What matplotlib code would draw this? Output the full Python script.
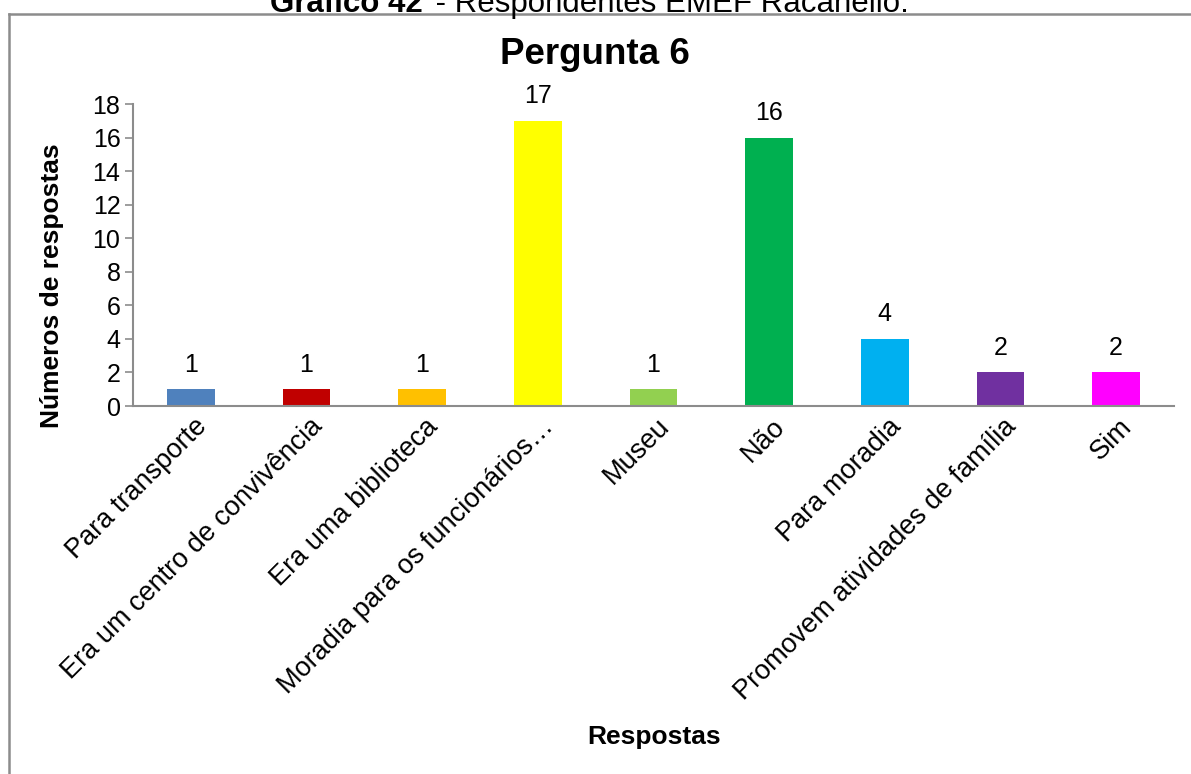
import matplotlib.pyplot as plt
from matplotlib.lines import Line2D
from matplotlib.transforms import ScaledTranslation

plt.rcParams['font.family'] = ['Liberation Sans', 'DejaVu Sans']

# dados do gráfico
categorias = ['Para transporte', 'Era um centro de convivência', 'Era uma biblioteca',
              'Moradia para os funcionários…', 'Museu', 'Não', 'Para moradia',
              'Promovem atividades de família', 'Sim']
respostas = [1, 1, 1, 17, 1, 16, 4, 2, 2]
cores = ['#4F81BD', '#C00000', '#FFC000', '#FFFF00', '#92D050',
         '#00B050', '#00B0F0', '#7030A0', '#FF00FF']
y_ticks = [0, 2, 4, 6, 8, 10, 12, 14, 16, 18]

W, H = 1191, 774
fig = plt.figure(figsize=(W / 100, H / 100), dpi=100)

# moldura da área do gráfico (cortada à direita e embaixo)
grey = '#8C8C8C'
fig.add_artist(Line2D([9 / W, 1], [1 - 13.5 / H] * 2, color=grey, lw=1.8))
fig.add_artist(Line2D([9 / W] * 2, [0, 1 - 13.5 / H], color=grey, lw=1.8))

# legenda do documento (parcialmente cortada no topo)
fig.text(423 / W, 1 - 12 / H, 'Gráfico 42', fontsize=22.5, fontweight='bold',
         ha='right', va='baseline')
fig.text(427 / W, 1 - 12 / H, ' - Respondentes EMEF Racanello.', fontsize=22.5,
         ha='left', va='baseline')

ax = fig.add_axes([133 / W, 1 - 406 / H, (1174 - 133) / W, (406 - 104) / H])
x = range(len(categorias))
bars = ax.bar(x, respostas, width=0.41, color=cores)
ax.set_xlim(-0.5, len(categorias) - 0.5)
ax.set_ylim(0, 18)
ax.set_yticks(y_ticks)
ax.tick_params(axis='y', labelsize=18, length=6, color=grey, width=1.2, pad=3)
ax.tick_params(axis='x', length=0, pad=12)
ax.set_xticks(list(x))
ax.set_xticklabels(categorias, rotation=45, ha='right', va='center',
                   rotation_mode='anchor', fontsize=19.5)
# desloca os rótulos um pouco para a direita, como no Excel
shift = ScaledTranslation(0.12, 0, fig.dpi_scale_trans)
for lab in ax.get_xticklabels():
    lab.set_transform(lab.get_transform() + shift)

for s in ['top', 'right']:
    ax.spines[s].set_visible(False)
for s in ['left', 'bottom']:
    ax.spines[s].set_color(grey)
    ax.spines[s].set_linewidth(1.5)

for b, v in zip(bars, respostas):
    ax.annotate(str(v), (b.get_x() + b.get_width() / 2, v), xytext=(0, 9),
                textcoords='offset points', ha='center', va='bottom', fontsize=18)

fig.text(595 / W, 1 - 55 / H, 'Pergunta 6', fontsize=26.5, fontweight='bold',
         ha='center', va='center')
fig.text(52 / W, 1 - 286 / H, 'Números de respostas', fontsize=19, fontweight='bold',
         rotation=90, ha='center', va='center')
fig.text(654 / W, 1 - 737 / H, 'Respostas', fontsize=19, fontweight='bold',
         ha='center', va='center')

fig.savefig('out.png', dpi=100, facecolor='white')
